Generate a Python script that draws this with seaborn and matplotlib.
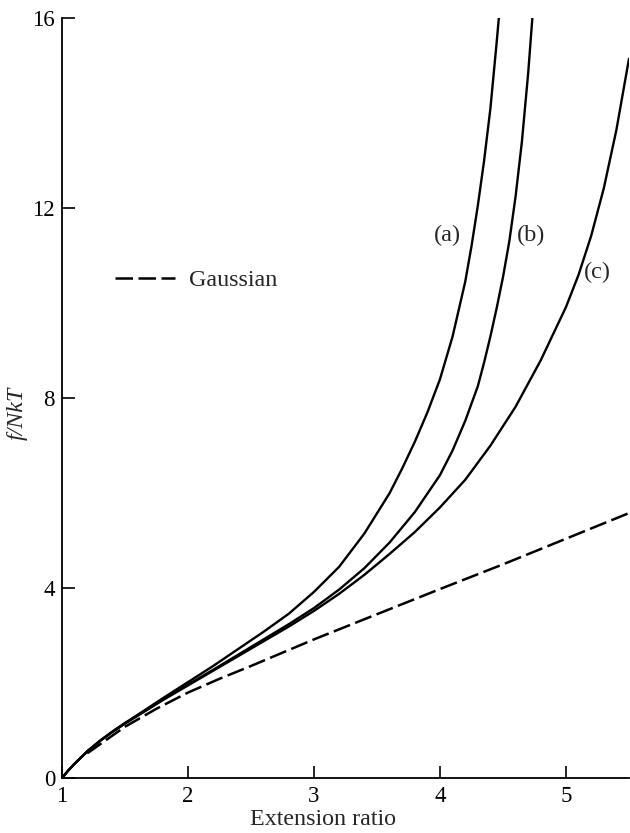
import matplotlib
matplotlib.use("Agg")
import matplotlib.pyplot as plt
import seaborn as sns
import pandas as pd

# Force-extension curves: extension ratio vs f/NkT
lam_a = [1.0, 1.05, 1.1, 1.2, 1.3, 1.4, 1.5, 1.6, 1.8, 2.0, 2.2, 2.4, 2.6, 2.8,
         3.0, 3.2, 3.4, 3.6, 3.7, 3.8, 3.9, 4.0, 4.1, 4.2, 4.25, 4.3, 4.35, 4.4,
         4.45, 4.48]
f_a = [0.0, 0.16, 0.30, 0.56, 0.78, 0.98, 1.16, 1.33, 1.68, 2.02, 2.36, 2.72, 3.08,
       3.46, 3.92, 4.45, 5.15, 6.00, 6.52, 7.08, 7.70, 8.40, 9.30, 10.45, 11.20,
       12.05, 13.00, 14.10, 15.50, 16.40]

lam_b = [1.0, 1.05, 1.1, 1.2, 1.3, 1.4, 1.5, 1.6, 1.8, 2.0, 2.2, 2.4, 2.6, 2.8,
         3.0, 3.2, 3.4, 3.6, 3.8, 4.0, 4.1, 4.2, 4.3, 4.35, 4.4, 4.45, 4.5, 4.55,
         4.6, 4.65, 4.7, 4.75]
f_b = [0.0, 0.16, 0.30, 0.56, 0.78, 0.97, 1.15, 1.32, 1.65, 1.97, 2.28, 2.60, 2.92,
       3.24, 3.58, 3.97, 4.42, 4.96, 5.60, 6.38, 6.90, 7.52, 8.25, 8.75, 9.30, 9.90,
       10.55, 11.30, 12.25, 13.40, 14.85, 16.60]

lam_c = [1.0, 1.05, 1.1, 1.2, 1.3, 1.4, 1.5, 1.6, 1.8, 2.0, 2.2, 2.4, 2.6, 2.8,
         3.0, 3.2, 3.4, 3.6, 3.8, 4.0, 4.2, 4.4, 4.6, 4.8, 5.0, 5.1, 5.2, 5.3, 5.4,
         5.5]
f_c = [0.0, 0.16, 0.30, 0.56, 0.78, 0.97, 1.15, 1.31, 1.64, 1.95, 2.26, 2.57, 2.88,
       3.19, 3.52, 3.88, 4.28, 4.72, 5.18, 5.70, 6.28, 7.00, 7.82, 8.80, 9.92,
       10.60, 11.42, 12.42, 13.65, 15.15]

lam_g = [1.2, 1.5, 1.75, 2.0, 2.25, 2.5, 3.0, 3.5, 4.0, 4.5, 5.0, 5.5]
f_g = [0.52, 1.08, 1.46, 1.80, 2.09, 2.36, 2.92, 3.45, 3.98, 4.50, 5.04, 5.58]

curve_labels = ["(a)", "(b)", "(c)"]
label_pos_lam = [4.06, 4.72, 5.25]
label_pos_f = [11.43, 11.43, 10.65]

x_ticks = [1, 2, 3, 4, 5]
y_ticks = [0, 4, 8, 12, 16]

sns.set_theme(style="ticks")
plt.rcParams["font.family"] = ["Liberation Serif", "DejaVu Serif"]

fig = plt.figure(figsize=(6.3, 8.33), dpi=100)
ax = fig.add_axes([0.0984, 0.066, 0.9, 0.912])

for lam, f in [(lam_a, f_a), (lam_b, f_b), (lam_c, f_c)]:
    df = pd.DataFrame({"lam": lam, "f": f})
    sns.lineplot(data=df, x="lam", y="f", ax=ax, color="black", lw=1.7,
                 sort=False, estimator=None, solid_joinstyle="round")

dg = pd.DataFrame({"lam": lam_g, "f": f_g})
sns.lineplot(data=dg, x="lam", y="f", ax=ax, color="black", lw=1.8,
             linestyle=(0, (7, 2.2)), sort=False, estimator=None,
             label="Gaussian")

for txt, lx, ly in zip(curve_labels, label_pos_lam, label_pos_f):
    ax.text(lx, ly, txt, ha="center", va="center", fontsize=17.5)

ax.set_xlim(1, 5.5)
ax.set_ylim(0, 16)
ax.set_xticks(x_ticks)
ax.set_yticks(y_ticks)
ax.tick_params(direction="in", length=9, width=1.2, labelsize=16.5, colors="black")
ax.tick_params(axis="x", pad=6)
ax.tick_params(axis="y", pad=5)
for s in ["top", "right"]:
    ax.spines[s].set_visible(False)
for s in ["left", "bottom"]:
    ax.spines[s].set_linewidth(1.3)
    ax.spines[s].set_color("black")

ax.set_xlabel("Extension ratio", fontsize=17.3)
ax.xaxis.set_label_coords(0.46, -0.041)
ax.set_ylabel("f/NkT", fontsize=17.3, fontstyle="italic")
ax.yaxis.set_label_coords(-0.06, 0.48)

ax.legend(frameon=False, loc="center left", bbox_to_anchor=(0.093, 0.655),
          borderpad=0, borderaxespad=0, handlelength=2.5, handletextpad=0.6,
          fontsize=17.3)

fig.savefig("out.png", dpi=100)
